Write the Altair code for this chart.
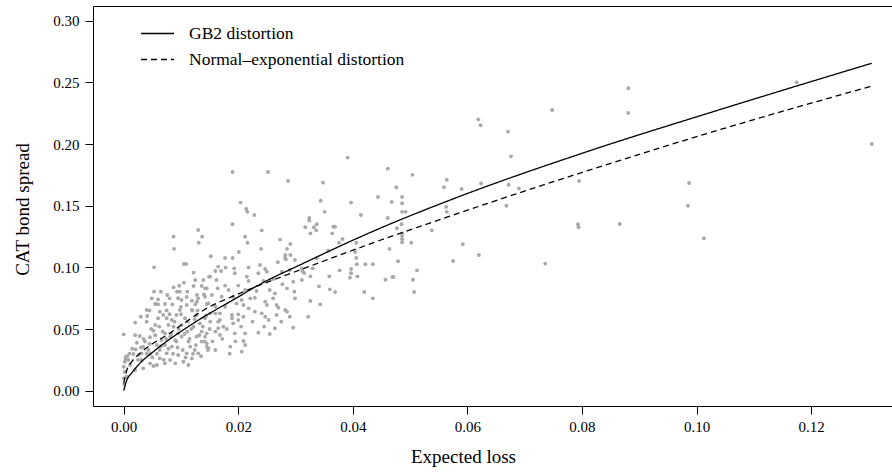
import altair as alt
import pandas as pd

# ---------------- data ----------------
expected_loss = [
    # x >= 0.08
    0.0881, 0.0881, 0.1175, 0.1306, 0.0987, 0.0985, 0.0866, 0.1013,
    # 0.055 - 0.08
    0.0619, 0.0623, 0.0748, 0.0671, 0.0676, 0.0564, 0.0559, 0.0590, 0.0624, 0.0672,
    0.0690, 0.0795, 0.0563, 0.0564, 0.0668, 0.0793, 0.0794, 0.0592, 0.0575, 0.0620, 0.0736,
    # 0.03 - 0.055
    0.0391, 0.0461, 0.0504, 0.0348, 0.0476, 0.0444, 0.0486, 0.0344, 0.0397, 0.0468,
    0.0486, 0.0351, 0.0486, 0.0492, 0.0414, 0.0461, 0.0324, 0.0324, 0.0317, 0.0332,
    0.0337, 0.0336, 0.0326, 0.0366, 0.0369, 0.0364, 0.0485, 0.0477, 0.0486, 0.0486,
    0.0486, 0.0486, 0.0502, 0.0538, 0.0382, 0.0376, 0.0406, 0.0404, 0.0406, 0.0407,
    0.0422, 0.0435, 0.0464, 0.0479, 0.0357, 0.0337, 0.0330, 0.0312, 0.0315, 0.0326,
    0.0359, 0.0377, 0.0397, 0.0397, 0.0395, 0.0408, 0.0457, 0.0469, 0.0471, 0.0505,
    0.0512, 0.0341, 0.0360, 0.0369, 0.0420, 0.0507, 0.0435, 0.0326, 0.0343, 0.0322,
    # 0.015 - 0.03, upper
    0.0190, 0.0252, 0.0287, 0.0204, 0.0214, 0.0216, 0.0228, 0.0190, 0.0241, 0.0212,
    0.0216, 0.0273, 0.0291, 0.0285, 0.0240, 0.0201, 0.0152, 0.0177, 0.0190, 0.0282,
    0.0291, 0.0283,
    # 0.005 - 0.015, upper
    0.0087, 0.0130, 0.0137, 0.0131, 0.0088, 0.0053, 0.0105, 0.0109, 0.0122, 0.0149,
    0.0125, 0.0139, 0.0105, 0.0097, 0.0087, 0.0122, 0.0136, 0.0145, 0.0053, 0.0065,
    0.0093, 0.0098, 0.0111, 0.0076, 0.0080, 0.0049, 0.0128, 0.0130, 0.0101, 0.0119,
    0.0128, 0.0056, 0.0072, 0.0145,
    # 0.014 - 0.031, dense
    0.0165, 0.0178, 0.0193, 0.0218, 0.0238, 0.0247, 0.0269, 0.0282, 0.0299, 0.0160,
    0.0170, 0.0194, 0.0215, 0.0235, 0.0250, 0.0276, 0.0290, 0.0311, 0.0151, 0.0162,
    0.0177, 0.0200, 0.0218, 0.0244, 0.0261, 0.0277, 0.0296, 0.0311, 0.0142, 0.0164,
    0.0183, 0.0212, 0.0232, 0.0255, 0.0264, 0.0285, 0.0298, 0.0142, 0.0154, 0.0171,
    0.0191, 0.0206, 0.0221, 0.0229, 0.0247, 0.0261, 0.0267, 0.0299, 0.0148, 0.0160,
    0.0177, 0.0197, 0.0209, 0.0218, 0.0229, 0.0250, 0.0270, 0.0282, 0.0151, 0.0160,
    0.0168, 0.0189, 0.0200, 0.0209, 0.0241, 0.0247, 0.0267, 0.0285, 0.0151, 0.0168,
    0.0189, 0.0200, 0.0253, 0.0165, 0.0174, 0.0191, 0.0160, 0.0194, 0.0212, 0.0264,
    0.0296, 0.0142, 0.0168, 0.0209, 0.0145, 0.0186, 0.0212, 0.0148, 0.0206,
    # 0 - 0.015, dense
    0.0000, 0.0020, 0.0040, 0.0041, 0.0055, 0.0063, 0.0069, 0.0060, 0.0055, 0.0052,
    0.0046, 0.0037, 0.0028, 0.0023, 0.0021, 0.0017, 0.0004, 0.0002, 0.0000, 0.0002,
    0.0008, 0.0011, 0.0034, 0.0043, 0.0026, 0.0031, 0.0046, 0.0058, 0.0066, 0.0072,
    0.0078, 0.0084, 0.0092, 0.0098, 0.0110, 0.0119, 0.0127, 0.0133, 0.0142, 0.0122,
    0.0111, 0.0101, 0.0092, 0.0084, 0.0075, 0.0081, 0.0063, 0.0058, 0.0113, 0.0127,
    0.0136, 0.0145, 0.0110, 0.0095, 0.0119, 0.0130, 0.0046, 0.0034, 0.0020, 0.0005,
    0.0072, 0.0075, 0.0087, 0.0101, 0.0107, 0.0095, 0.0116, 0.0136, 0.0145, 0.0124,
    0.0104, 0.0081, 0.0031, 0.0063, 0.0052, 0.0072, 0.0090, 0.0113,
    0.0000, 0.0001, 0.0003, 0.0006,
    # extra points in the densest part of the cloud
    0.0010, 0.0015, 0.0025, 0.0030, 0.0035, 0.0040, 0.0045, 0.0048, 0.0050, 0.0055,
    0.0058, 0.0062, 0.0065, 0.0068, 0.0070, 0.0074, 0.0078, 0.0080, 0.0083, 0.0086,
    0.0089, 0.0090, 0.0094, 0.0096, 0.0100, 0.0103, 0.0106, 0.0108, 0.0112, 0.0115,
    0.0118, 0.0121, 0.0124, 0.0126, 0.0129, 0.0132, 0.0135, 0.0138, 0.0141, 0.0144,
    0.0147, 0.0150, 0.0155, 0.0160, 0.0165, 0.0172, 0.0180, 0.0185, 0.0195, 0.0205,
    0.0225, 0.0235, 0.0245, 0.0255, 0.0275, 0.0290, 0.0030, 0.0045, 0.0060, 0.0075,
    0.0085, 0.0095, 0.0110, 0.0125, 0.0140, 0.0120, 0.0100, 0.0060, 0.0040, 0.0020,
]

cat_spread = [
    0.2452, 0.2252, 0.2500, 0.2000, 0.1684, 0.1500, 0.1352, 0.1236,
    0.2200, 0.2152, 0.2276, 0.2100, 0.1900, 0.1710, 0.1650, 0.1635, 0.1680, 0.1670,
    0.1640, 0.1700, 0.1490, 0.1450, 0.1500, 0.1350, 0.1325, 0.1187, 0.1052, 0.1100, 0.1030,
    0.1890, 0.1800, 0.1750, 0.1687, 0.1650, 0.1570, 0.1570, 0.1540, 0.1525, 0.1530,
    0.1520, 0.1450, 0.1450, 0.1450, 0.1425, 0.1400, 0.1400, 0.1380, 0.1325, 0.1325,
    0.1350, 0.1300, 0.1276, 0.1330, 0.1330, 0.1276, 0.1350, 0.1317, 0.1276, 0.1254,
    0.1228, 0.1203, 0.1200, 0.1300, 0.1230, 0.1200, 0.1200, 0.1125, 0.1076, 0.1025,
    0.1025, 0.1025, 0.1150, 0.1050, 0.1135, 0.1073, 0.0992, 0.0968, 0.0954, 0.0927,
    0.0927, 0.0976, 0.0987, 0.0952, 0.0916, 0.0927, 0.0900, 0.0922, 0.0922, 0.0900,
    0.0976, 0.0846, 0.0822, 0.0800, 0.0800, 0.0800, 0.0749, 0.0727, 0.0700, 0.0600,
    0.1773, 0.1773, 0.1700, 0.1525, 0.1473, 0.1450, 0.1425, 0.1350, 0.1300, 0.1249,
    0.1200, 0.1225, 0.1190, 0.1150, 0.1150, 0.1125, 0.1090, 0.1076, 0.1076, 0.1100,
    0.1100, 0.1065,
    0.1249, 0.1303, 0.1249, 0.1200, 0.1150, 0.1000, 0.1027, 0.1027, 0.0957, 0.0924,
    0.0898, 0.0898, 0.0876, 0.0851, 0.0838, 0.0849, 0.0849, 0.0830, 0.0803, 0.0803,
    0.0803, 0.0803, 0.0803, 0.0776, 0.0749, 0.0749, 0.0776, 0.0749, 0.0735, 0.0730,
    0.0722, 0.0703, 0.0703, 0.0703,
    0.1006, 0.0998, 0.0992, 0.0998, 0.1019, 0.0987, 0.1041, 0.1079, 0.1060, 0.0971,
    0.0971, 0.0952, 0.0925, 0.0952, 0.0965, 0.0965, 0.0979, 0.0992, 0.0925, 0.0898,
    0.0852, 0.0852, 0.0890, 0.0890, 0.0906, 0.0863, 0.0884, 0.0898, 0.0830, 0.0830,
    0.0816, 0.0816, 0.0808, 0.0816, 0.0789, 0.0830, 0.0803, 0.0762, 0.0776, 0.0762,
    0.0762, 0.0735, 0.0749, 0.0754, 0.0722, 0.0749, 0.0695, 0.0749, 0.0708, 0.0681,
    0.0681, 0.0708, 0.0695, 0.0668, 0.0641, 0.0695, 0.0673, 0.0654, 0.0627, 0.0627,
    0.0627, 0.0614, 0.0619, 0.0600, 0.0627, 0.0600, 0.0614, 0.0641, 0.0560, 0.0573,
    0.0587, 0.0573, 0.0573, 0.0506, 0.0519, 0.0546, 0.0479, 0.0465, 0.0465, 0.0506,
    0.0511, 0.0438, 0.0452, 0.0403, 0.0384, 0.0357, 0.0371, 0.0344, 0.0317,
    0.0457, 0.0552, 0.0654, 0.0606, 0.0703, 0.0641, 0.0614, 0.0587, 0.0533, 0.0487,
    0.0433, 0.0398, 0.0444, 0.0389, 0.0335, 0.0298, 0.0276, 0.0235, 0.0195, 0.0154,
    0.0249, 0.0208, 0.0357, 0.0330, 0.0289, 0.0249, 0.0298, 0.0371, 0.0411, 0.0465,
    0.0533, 0.0573, 0.0614, 0.0654, 0.0695, 0.0654, 0.0614, 0.0546, 0.0587, 0.0519,
    0.0479, 0.0438, 0.0398, 0.0357, 0.0303, 0.0249, 0.0262, 0.0208, 0.0398, 0.0438,
    0.0398, 0.0357, 0.0303, 0.0289, 0.0262, 0.0303, 0.0222, 0.0181, 0.0168, 0.0114,
    0.0371, 0.0587, 0.0519, 0.0533, 0.0587, 0.0465, 0.0357, 0.0479, 0.0465, 0.0330,
    0.0235, 0.0438, 0.0303, 0.0330, 0.0200, 0.0222, 0.0222, 0.0208,
    0.0100, 0.0050, 0.0260, 0.0280,
    0.0300, 0.0340, 0.0250, 0.0350, 0.0420, 0.0300, 0.0380, 0.0500, 0.0270, 0.0450,
    0.0300, 0.0520, 0.0360, 0.0480, 0.0250, 0.0420, 0.0340, 0.0620, 0.0460, 0.0300,
    0.0560, 0.0410, 0.0350, 0.0500, 0.0620, 0.0330, 0.0460, 0.0270, 0.0560, 0.0420,
    0.0500, 0.0300, 0.0580, 0.0370, 0.0650, 0.0450, 0.0280, 0.0520, 0.0400, 0.0610,
    0.0330, 0.0500, 0.0400, 0.0330, 0.0560, 0.0420, 0.0500, 0.0300, 0.0400, 0.0520,
    0.0560, 0.0470, 0.0520, 0.0460, 0.0560, 0.0600, 0.0600, 0.0650, 0.0700, 0.0650,
    0.0700, 0.0750, 0.0760, 0.0700, 0.0780, 0.0650, 0.0680, 0.0740, 0.0560, 0.0450,
]

series_names = ["GB2 distortion", "Normal\u2013exponential distortion"]

gb2_x = [0.0, 0.0005, 0.0015, 0.003, 0.005, 0.0075, 0.010, 0.0133, 0.0151, 0.020,
         0.0229, 0.0317, 0.0439, 0.0570, 0.0814, 0.1029, 0.1306]
gb2_y = [0.0, 0.008, 0.015, 0.023, 0.031, 0.040, 0.048, 0.058, 0.063, 0.076,
         0.084, 0.104, 0.130, 0.1546, 0.1946, 0.2262, 0.2655]

ne_x = [0.0, 0.0005, 0.0015, 0.003, 0.005, 0.0075, 0.010, 0.0142, 0.019, 0.0229,
        0.0317, 0.0439, 0.0570, 0.0814, 0.1029, 0.1306]
ne_y = [0.006, 0.016, 0.024, 0.031, 0.038, 0.045, 0.053, 0.066, 0.0765, 0.084,
        0.0995, 0.1205, 0.1416, 0.179, 0.210, 0.247]

x_ticks = [0.00, 0.02, 0.04, 0.06, 0.08, 0.10, 0.12]
y_ticks = [0.00, 0.05, 0.10, 0.15, 0.20, 0.25, 0.30]

# ---------------- tables ----------------
pts = pd.DataFrame({"el": expected_loss, "spread": cat_spread})
lines = pd.concat([
    pd.DataFrame({"el": gb2_x, "spread": gb2_y, "series": series_names[0], "o": range(len(gb2_x))}),
    pd.DataFrame({"el": ne_x, "spread": ne_y, "series": series_names[1], "o": range(len(ne_x))}),
])

FONT = "Liberation Serif"
xs = alt.Scale(domain=[-0.00536, 0.13413], nice=False, zero=False)
ys = alt.Scale(domain=[-0.0124, 0.3119], nice=False, zero=False)

x_axis = alt.Axis(values=x_ticks, format=".2f", grid=False, domain=True, domainColor="black",
                  tickSize=8, tickColor="black", labelFont=FONT, labelFontSize=15,
                  labelColor="black", labelPadding=5, title="Expected loss",
                  titleFont=FONT, titleFontSize=19, titleFontWeight="normal",
                  titleColor="black", titleX=370, titleY=56, titleAnchor="middle",
                  titleBaseline="alphabetic")
y_axis = alt.Axis(values=y_ticks, format=".2f", grid=False, domain=True, domainColor="black",
                  tickSize=8, tickColor="black", labelFont=FONT, labelFontSize=15,
                  labelColor="black", labelPadding=6, title="CAT bond spread",
                  titleFont=FONT, titleFontSize=19, titleFontWeight="normal",
                  titleColor="black", titleX=-71, titleY=203, titleAngle=270,
                  titleAlign="center", titleBaseline="middle")

points = alt.Chart(pts).mark_circle(size=15, color="#A9A9A9", opacity=1).encode(
    x=alt.X("el:Q", scale=xs, axis=x_axis),
    y=alt.Y("spread:Q", scale=ys, axis=y_axis),
)

curve = alt.Chart(lines).mark_line(color="black", strokeWidth=1.3, interpolate="monotone").encode(
    x=alt.X("el:Q", scale=xs, axis=alt.Axis(orient="top", labels=False, ticks=False, domain=True,
                                               domainColor="black", grid=False, title=None)),
    y=alt.Y("spread:Q", scale=ys),
    order="o:Q",
    strokeDash=alt.StrokeDash(
        "series:N",
        scale=alt.Scale(domain=series_names, range=[[1, 0], [6, 4]]),
        legend=alt.Legend(title=None, orient="none", legendX=47, legendY=10,
                          symbolType="stroke", symbolSize=1089, symbolStrokeWidth=1.3,
                          symbolStrokeColor="black", labelFont=FONT, labelFontSize=17.5,
                          labelColor="black", labelOffset=14, rowPadding=-5, labelLimit=0),
    ),
)

chart = alt.layer(points, curve).resolve_axis(x="independent").properties(
    width=799, height=400,
    padding={"left": 93, "top": 6, "right": 0, "bottom": 68},
    autosize=alt.AutoSizeParams(type="none"),
    background="white",
).configure_view(stroke=None)

chart.save("out.html", embed_options={"renderer": "svg", "actions": False})
